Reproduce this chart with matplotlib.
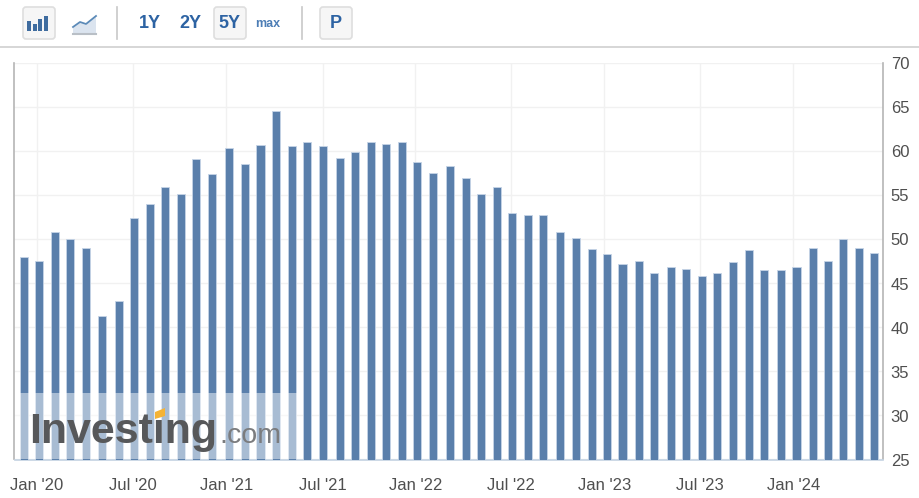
import matplotlib
matplotlib.use('Agg')
import matplotlib.pyplot as plt
from matplotlib.patches import Rectangle, FancyBboxPatch, Polygon
from datetime import date

plt.rcParams['font.family'] = ['Liberation Sans', 'DejaVu Sans']

# month of each bar, from Dec 2019 to Jun 2024
years = [2019] + [2020] * 12 + [2021] * 12 + [2022] * 12 + [2023] * 12 + [2024] * 6
months = [12] + list(range(1, 13)) * 4 + list(range(1, 7))

# day of the month the figure was published
days = [7,
        6, 5, 6, 5, 6, 7, 7, 6, 5, 6, 4, 5,
        6, 6, 8, 7, 7, 6, 6, 8, 7, 7, 6, 6,
        5, 4, 9, 8, 8, 7, 7, 6, 5, 8, 7, 8,
        6, 5, 8, 7, 9, 8, 9, 7, 6, 7, 5, 8,
        7, 7, 7, 6, 7, 5]

values = [48.0,
          47.6, 50.8, 50.0, 49.0, 41.3, 43.0, 52.4, 54.0, 56.0, 55.2, 59.2, 57.4,
          60.4, 58.6, 60.7, 64.6, 60.6, 61.1, 60.6, 59.3, 59.9, 61.1, 60.8, 61.1,
          58.8, 57.6, 58.4, 57.0, 55.2, 56.0, 53.0, 52.8, 52.8, 50.8, 50.2, 48.9,
          48.3, 47.2, 47.6, 46.2, 46.9, 46.7, 45.8, 46.2, 47.4, 48.8, 46.5, 46.5,
          46.9, 49.0, 47.6, 50.1, 49.0, 48.5]

tick_dates = [date(2020, 1, 1), date(2020, 7, 5), date(2021, 1, 1), date(2021, 7, 6),
              date(2022, 1, 1), date(2022, 7, 4), date(2023, 1, 1), date(2023, 7, 5),
              date(2024, 1, 1)]
tick_labels = ["Jan '20", "Jul '20", "Jan '21", "Jul '21", "Jan '22",
               "Jul '22", "Jan '23", "Jul '23", "Jan '24"]
y_ticks = [25, 30, 35, 40, 45, 50, 55, 60, 65, 70]

bar_dates = [date(y, m, d) for y, m, d in zip(years, months, days)]

W, H = 920, 498
fig = plt.figure(figsize=(W / 100, H / 100), dpi=100)
ax = fig.add_axes([14.5 / W, (H - 459.5) / H, (883 - 14.5) / W, (459.5 - 63.5) / H])

ax.bar(bar_dates, values, width=15.5, color='#5a7fab', edgecolor='#c6d4e6',
       linewidth=0.6, zorder=3)

ax.set_ylim(25, 70)
ax.set_xlim(date(2019, 11, 19), date(2024, 6, 22))
ax.set_yticks(y_ticks)
ax.set_xticks(tick_dates)
ax.set_xticklabels(tick_labels)
ax.yaxis.tick_right()
ax.tick_params(axis='both', length=0, labelcolor='#4f4f4f')
ax.tick_params(axis='y', labelsize=12, pad=5.5)
ax.tick_params(axis='x', labelsize=12, pad=13.5)
ax.grid(True, color='#f1f1f1', linewidth=1, zorder=0)
ax.set_axisbelow(True)

ax.spines['top'].set_visible(False)
ax.spines['left'].set_color('#b5b5b5')
ax.spines['right'].set_color('#b5b5b5')
ax.spines['bottom'].set_color('#c3d2e2')
ax.spines['left'].set_linewidth(1.2)
ax.spines['right'].set_linewidth(1.2)
ax.spines['bottom'].set_linewidth(1.2)

# layer in pixel coordinates for the toolbar and the watermark
top = fig.add_axes([0, 0, 1, 1], zorder=5)
top.set_xlim(0, W)
top.set_ylim(H, 0)
top.axis('off')

# watermark
top.add_patch(Rectangle((15, 393), 282, 66, color='white', alpha=0.48, lw=0))
top.text(29, 443, 'Investing', fontsize=31, fontweight='bold', color='#57585a',
         ha='left', va='baseline', family='Liberation Sans')
top.text(219, 443, '.com', fontsize=20.5, color='#7b7c7e', ha='left', va='baseline',
         family='Liberation Sans')
top.add_patch(Polygon([(155, 412), (165, 408), (165, 416), (155, 419)], color='#f5b335', lw=0, zorder=4))

# toolbar
top.plot([0, W], [47, 47], color='#d0d0d0', lw=1.2)
top.plot([117, 117], [7, 39], color='#c8c8c8', lw=1.2)
top.plot([302, 302], [7, 39], color='#c8c8c8', lw=1.2)

for x0, x1 in [(23, 55), (214, 246), (320, 352)]:
    top.add_patch(FancyBboxPatch((x0, 7), x1 - x0, 32, boxstyle='round,pad=0,rounding_size=3',
                                 facecolor='#f6f6f6', edgecolor='#dedede', lw=1.2))

# bars icon
for x0, y0 in [(27, 21), (33, 24), (38, 19), (44, 16)]:
    top.add_patch(Rectangle((x0, y0), 4, 31 - y0, color='#3f6c9f', lw=0))

# area icon
top.add_patch(Polygon([(73, 28), (80, 23), (86, 25), (96, 17), (96, 33), (73, 33)],
                      color='#dbe4ef', lw=0))
top.plot([73, 80, 86, 96], [27, 22, 24, 16], color='#5b8ab8', lw=1.3)
top.plot([73, 96], [33.5, 33.5], color='#b9bfc6', lw=1.5)

for x, label in [(150, '1Y'), (190, '2Y'), (229.5, '5Y')]:
    top.text(x, 23, label, fontsize=13, fontweight='bold', color='#2d63a3', ha='center', va='center')
top.text(268, 23.5, 'max', fontsize=9, fontweight='bold', color='#4c7db5', ha='center', va='center')
top.text(336, 23, 'P', fontsize=13, fontweight='bold', color='#2d63a3', ha='center', va='center')

fig.savefig('out.png', dpi=100)
